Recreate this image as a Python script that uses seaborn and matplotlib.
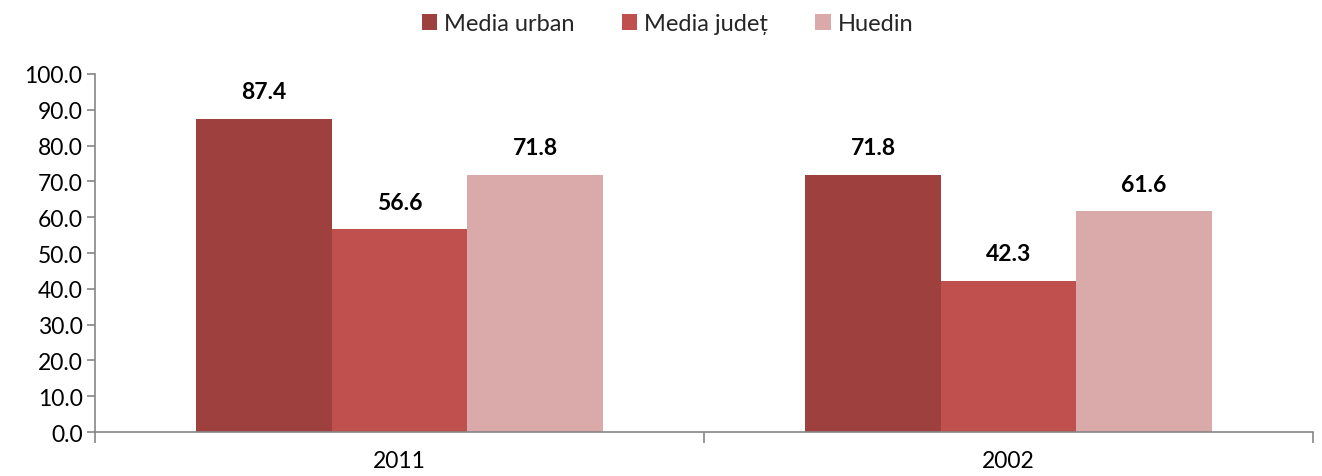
import matplotlib
matplotlib.use("Agg")
import matplotlib.pyplot as plt
import seaborn as sns
import pandas as pd
from matplotlib.ticker import FixedLocator, FormatStrFormatter

years = ["2011", "2002"]
series = ["Media urban", "Media județ", "Huedin"]
media_urban = [87.4, 71.8]
media_judet = [56.6, 42.3]
huedin = [71.8, 61.6]
colors = ["#9E413E", "#C0504D", "#DAAAAA"]

rows = []
for s, vals in zip(series, [media_urban, media_judet, huedin]):
    for y, v in zip(years, vals):
        rows.append({"year": y, "series": s, "value": v})
df = pd.DataFrame(rows)

sns.set_theme(style="white")
plt.rcParams["font.family"] = ["Lato", "DejaVu Sans"]

fig = plt.figure(figsize=(13.22, 4.77), dpi=100)
ax = fig.add_axes([0.0719, 0.0922, 0.9213, 0.7506])

sns.barplot(data=df, x="year", y="value", hue="series", order=years,
            hue_order=series, palette=colors, width=0.667, gap=0,
            saturation=1, ax=ax, errorbar=None, linewidth=0)

for cont in ax.containers:
    ax.bar_label(cont, labels=[f"{v:.1f}" for v in cont.datavalues],
                 padding=12, fontsize=16.5, fontweight="bold", color="black")

ax.set_xlim(-0.5, 1.5)
ax.set_ylim(0, 100)
ax.set_yticks(range(0, 101, 10))
ax.yaxis.set_major_formatter(FormatStrFormatter("%.1f"))
ax.set_xlabel("")
ax.set_ylabel("")

for sp in ["top", "right"]:
    ax.spines[sp].set_visible(False)
for sp in ["left", "bottom"]:
    ax.spines[sp].set_color("#868686")
    ax.spines[sp].set_linewidth(1.2)

ax.tick_params(axis="y", which="major", left=True, length=6, width=1.2,
               color="#868686", labelsize=16.5, labelcolor="black", pad=3)
ax.tick_params(axis="x", which="major", length=0, labelsize=16.5,
               labelcolor="black", pad=13)
ax.xaxis.set_minor_locator(FixedLocator([-0.5, 0.5, 1.5]))
ax.tick_params(axis="x", which="minor", bottom=True, length=8, width=1.2,
               color="#868686")

ax.legend(loc="upper center", bbox_to_anchor=(0.505, 1.0), bbox_transform=fig.transFigure,
          ncol=3, frameon=False, fontsize=17, handlelength=0.65, handleheight=0.65,
          columnspacing=2.0, handletextpad=0.3, borderaxespad=0.2)

fig.savefig("out.png", dpi=100)
